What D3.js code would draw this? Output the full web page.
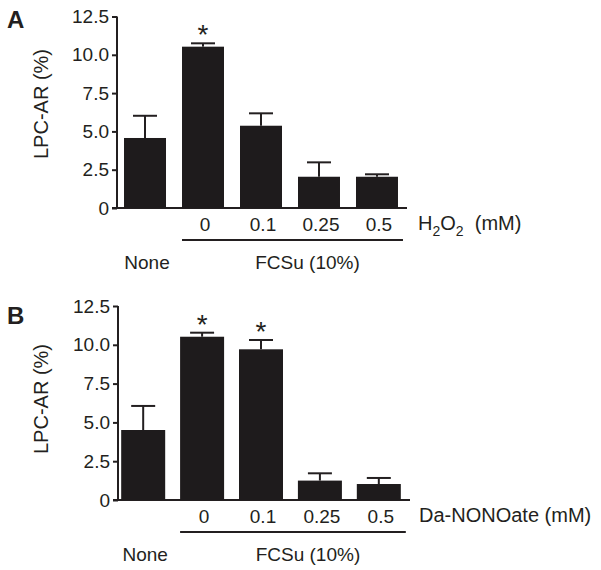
<!DOCTYPE html>
<html>
<head>
<meta charset="utf-8">
<script src="https://cdn.jsdelivr.net/npm/d3@7"></script>
<style>
  html, body { margin: 0; padding: 0; background: #fff; }
  svg { display: block; }
  text { font-family: "Liberation Sans", Arial, Helvetica, sans-serif; fill: #231f20; }
</style>
</head>
<body>
<svg id="chart" width="601" height="570"></svg>
<script>
// ---- data ----
const categories = ["None", "0", "0.1", "0.25", "0.5"];
const concLabels = ["", "0", "0.1", "0.25", "0.5"];
const yTicks = [0, 2.5, 5, 7.5, 10, 12.5];
const yTickLabels = ["0", "2.5", "5.0", "7.5", "10.0", "12.5"];

const meansA = [4.57, 10.53, 5.37, 2.04, 2.04];
const errTopA = [6.02, 10.75, 6.18, 2.98, 2.2];
const sigA = [false, true, false, false, false];

const meansB = [4.51, 10.52, 9.71, 1.25, 1.03];
const errTopB = [6.06, 10.78, 10.31, 1.72, 1.42];
const sigB = [false, true, true, false, false];

const groupLabel = "FCSu (10%)";
const yLabel = "LPC-AR (%)";

// ---- drawing ----
const svg = d3.select("#chart");
const ink = "#231f20";

function panel(opts) {
  const g = svg.append("g");
  const y = d3.scaleLinear().domain([0, 12.5]).range([opts.y0, opts.y1]);
  const x = d3.scaleBand().domain(categories).range(opts.xr)
    .paddingInner(opts.pin).paddingOuter(opts.pout);
  const bw = x.bandwidth();

  // y axis
  const yAxis = d3.axisLeft(y).tickValues(yTicks)
    .tickFormat((d, i) => yTickLabels[i]).tickSize(5).tickSizeOuter(0).tickPadding(3);
  const ya = g.append("g").attr("transform", `translate(${opts.axisX},0)`).call(yAxis);
  ya.selectAll("path, line").attr("stroke", ink).attr("stroke-width", 2);
  ya.select(".domain").attr("d", `M0,${y(0)}V${y(12.5)}`);
  ya.selectAll("text").attr("font-size", 19).attr("fill", ink)
    .style("font-family", "Liberation Sans, Arial, sans-serif");

  // x baseline
  g.append("line").attr("x1", opts.axisX - 5).attr("x2", opts.baseEnd)
    .attr("y1", y(0)).attr("y2", y(0)).attr("stroke", ink).attr("stroke-width", 2);

  // bars
  g.selectAll("rect.bar").data(opts.means).join("rect")
    .attr("class", "bar")
    .attr("x", (d, i) => x(categories[i]))
    .attr("y", d => y(d))
    .attr("width", bw)
    .attr("height", d => y(0) - y(d))
    .attr("fill", "#1e1b1c");

  // error bars
  const capW = 24;
  opts.errTop.forEach((e, i) => {
    const cx = x(categories[i]) + bw / 2;
    g.append("line").attr("x1", cx).attr("x2", cx)
      .attr("y1", y(opts.means[i])).attr("y2", y(e))
      .attr("stroke", ink).attr("stroke-width", 2);
    g.append("line").attr("x1", cx - capW / 2).attr("x2", cx + capW / 2)
      .attr("y1", y(e)).attr("y2", y(e))
      .attr("stroke", ink).attr("stroke-width", 2);
    if (opts.sig[i]) {
      g.append("text").attr("x", cx).attr("y", y(e) + 1)
        .attr("text-anchor", "middle").attr("font-size", 28).text("*");
    }
  });

  // concentration labels
  concLabels.forEach((t, i) => {
    if (!t) return;
    g.append("text").attr("x", x(categories[i]) + bw / 2 + 2).attr("y", y(0) + 23)
      .attr("text-anchor", "middle").attr("font-size", 19).text(t);
  });

  // None label
  g.append("text").attr("x", x(categories[0]) + bw / 2 + 2).attr("y", y(0) + 61)
    .attr("text-anchor", "middle").attr("font-size", 19).text(categories[0]);

  // group line
  const gx1 = x(categories[1]);
  const gx2 = x(categories[4]) + bw + 5;
  g.append("line").attr("x1", gx1).attr("x2", gx2)
    .attr("y1", y(0) + 32).attr("y2", y(0) + 32)
    .attr("stroke", ink).attr("stroke-width", 2);
  g.append("text").attr("x", (gx1 + gx2) / 2 + 15).attr("y", y(0) + 61)
    .attr("text-anchor", "middle").attr("font-size", 19).text(groupLabel);

  // y label
  g.append("text")
    .attr("transform", `translate(${opts.yLabelX},${opts.yLabelY}) rotate(-90)`)
    .attr("text-anchor", "middle").attr("font-size", 20).text(yLabel);

  // panel letter
  g.append("text").attr("x", 7).attr("y", opts.letterY)
    .attr("font-size", 24).attr("font-weight", "bold").text(opts.letter);

  return { g, x, y };
}

const A = panel({
  y0: 208, y1: 16.5, xr: [117, 405], pin: 0.276, pout: 0.121,
  axisX: 117, baseEnd: 407,
  means: meansA, errTop: errTopA, sig: sigA,
  yLabelX: 48, yLabelY: 104, letter: "A", letterY: 28
});
// H2O2 label
const hl = A.g.append("text").attr("x", 418).attr("y", 230).attr("font-size", 20);
hl.append("tspan").text("H");
hl.append("tspan").attr("font-size", 14).attr("dy", 6).text("2");
hl.append("tspan").attr("dy", -6).text("O");
hl.append("tspan").attr("font-size", 14).attr("dy", 6).text("2");
hl.append("tspan").attr("dy", -6).text("\u00a0 (mM)");

const B = panel({
  y0: 500, y1: 306, xr: [115, 407], pin: 0.253, pout: 0.105,
  axisX: 118, baseEnd: 410,
  means: meansB, errTop: errTopB, sig: sigB,
  yLabelX: 48, yLabelY: 399, letter: "B", letterY: 324
});
B.g.append("text").attr("x", 419).attr("y", 522).attr("font-size", 20).text("Da-NONOate (mM)");
</script>
</body>
</html>
